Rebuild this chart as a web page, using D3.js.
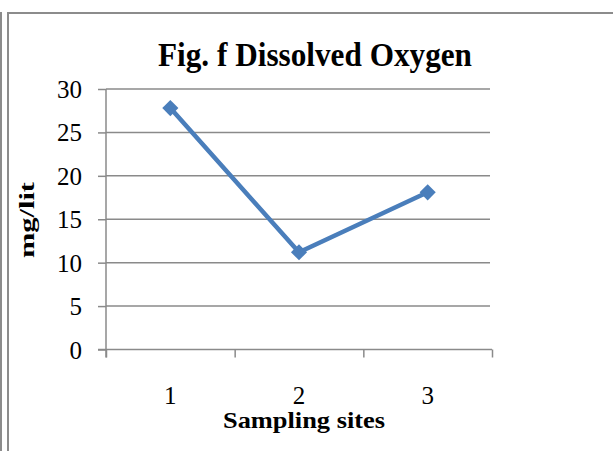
<!DOCTYPE html>
<html>
<head>
<meta charset="utf-8">
<script src="https://cdn.jsdelivr.net/npm/d3@7"></script>
<style>
  body { margin: 0; background: #fff; }
  text { font-family: "Liberation Serif", "Times New Roman", serif; fill: #000; }
</style>
</head>
<body>
<script>
'use strict';

// chart data
const sites = ["1", "2", "3"]
const oxygen = [27.8, 11.2, 18.1]
const yTicks = [0, 5, 10, 15, 20, 25, 30]

const m = {
  width: 613,
  height: 451,
  left: 106,
  right: 492,
  top: 89,
  bottom: 349.5
}

const svg = d3.select('body')
  .append('svg')
  .attr('width', m.width)
  .attr('height', m.height)

// chart frame (left double line + top line)
svg.append('line')
  .attr('x1', 1).attr('x2', 1).attr('y1', 12).attr('y2', m.height)
  .style('stroke', '#8c8c8c').style('stroke-width', 2)
svg.append('path')
  .attr('d', 'M8,' + m.height + 'V13H' + m.width)
  .style('fill', 'none').style('stroke', '#8c8c8c').style('stroke-width', 2)

// scales
const xBand = d3.scaleBand().domain(sites).range([m.left, m.right])
const xEdge = d3.scaleLinear().domain([0, sites.length]).range([m.left, m.right])
const yScale = d3.scaleLinear().domain([0, 30]).range([m.bottom, m.top])

// gridlines
svg.append('g')
  .selectAll('line')
  .data(yTicks.filter(d => d > 0))
  .enter()
  .append('line')
    .attr('x1', m.left)
    .attr('x2', m.right - 2)
    .attr('y1', d => yScale(d))
    .attr('y2', d => yScale(d))
    .style('stroke', '#8a8a8a')
    .style('stroke-width', 1.5)

// y axis
const yAxis = svg.append('g')
  .attr('transform', 'translate(' + m.left + ',0)')
  .call(d3.axisLeft(yScale).tickValues(yTicks).tickSize(8).tickPadding(16))
yAxis.select('.domain').attr('d', 'M0,' + m.top + 'V' + (m.bottom + 8))
yAxis.selectAll('.domain, .tick line').style('stroke', '#8a8a8a').style('stroke-width', 1.5)
yAxis.selectAll('text').style('font-size', '25px').attr('dy', '0.34em')

// x axis line and tick marks at category edges
const xAxis = svg.append('g')
  .attr('transform', 'translate(0,' + m.bottom + ')')
  .call(d3.axisBottom(xEdge).ticks(3).tickSizeOuter(0).tickSize(8).tickFormat(''))
xAxis.select('.domain').attr('d', 'M' + (m.left - 8) + ',0H' + m.right)
xAxis.selectAll('.domain, .tick line').style('stroke', '#8a8a8a').style('stroke-width', 1.5)

// x tick labels at band centres
const xLabels = svg.append('g')
  .attr('transform', 'translate(0,' + m.bottom + ')')
  .call(d3.axisBottom(xBand).tickSize(0).tickPadding(37))
xLabels.select('.domain').remove()
xLabels.selectAll('text').style('font-size', '25px')

// line + markers
const pts = sites.map((s, i) => [xBand(s) + xBand.bandwidth() / 2, yScale(oxygen[i])])

svg.append('path')
  .datum(pts)
  .attr('d', d3.line())
  .style('fill', 'none')
  .style('stroke', '#4a7ebb')
  .style('stroke-width', 4.5)

svg.append('g')
  .selectAll('path')
  .data(pts)
  .enter()
  .append('path')
    .attr('d', d3.symbol(d3.symbolSquare, 130))
    .attr('transform', d => 'translate(' + d[0] + ',' + d[1] + ') rotate(45)')
    .style('fill', '#4a7ebb')

// title and axis labels
svg.append('text')
  .attr('x', 315)
  .attr('y', 66)
  .attr('text-anchor', 'middle')
  .attr('textLength', 314)
  .attr('lengthAdjust', 'spacingAndGlyphs')
  .style('font-size', '34px')
  .style('font-weight', 'bold')
  .text('Fig. f Dissolved Oxygen')

svg.append('text')
  .attr('x', 304)
  .attr('y', 428)
  .attr('text-anchor', 'middle')
  .attr('textLength', 162)
  .attr('lengthAdjust', 'spacingAndGlyphs')
  .style('font-size', '23px')
  .style('font-weight', 'bold')
  .text('Sampling sites')

svg.append('text')
  .attr('transform', 'translate(34,220) rotate(-90)')
  .attr('text-anchor', 'middle')
  .attr('textLength', 76)
  .attr('lengthAdjust', 'spacingAndGlyphs')
  .style('font-size', '20px')
  .style('font-weight', 'bold')
  .text('mg/lit')
</script>
</body>
</html>
